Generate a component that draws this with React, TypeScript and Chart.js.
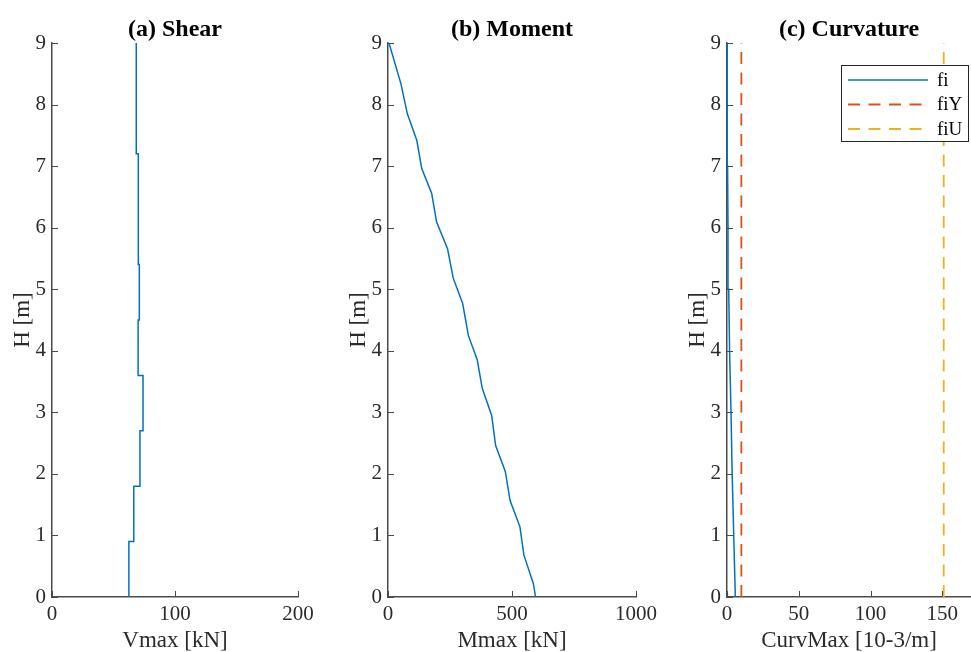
import React, { useEffect, useRef } from "react";
import { Chart, registerables } from "chart.js";

Chart.register(...registerables);

// ---------- data ----------
const heightTicks = [0, 1, 2, 3, 4, 5, 6, 7, 8, 9];

// (a) Shear: step profile, one value per storey band
const shearLevels = [0, 0.9, 1.8, 2.7, 3.6, 4.5, 5.4, 6.3, 7.2, 9];
const shearValues = [62.5, 66.5, 71.5, 74.0, 70.0, 71.0, 70.5, 70.0, 68.5];
const shearTicks = [0, 100, 200];

// (b) Moment
const momentH = [0, 0.22, 0.68, 1.14, 1.57, 2.04, 2.46, 2.95, 3.39, 3.85, 4.25, 4.5, 4.77, 5.18, 5.66, 6.09, 6.56, 6.96, 7.42, 7.85, 8.34, 9];
const momentValues = [595, 586, 548, 532, 492, 473, 434, 418, 380, 360, 324, 313, 301, 263, 240, 196, 176, 136, 116, 78, 52, 4];
const momentTicks = [0, 500, 1000];

// (c) Curvature
const curvH = [0, 1, 2, 3, 4, 5, 6, 7, 8, 9];
const curvFi = [5.8, 4.7, 3.6, 2.8, 1.8, 1.2, 0.7, 0.4, 0.2, 0.1];
const curvLimitH = [0, 9];
const fiYValue = 10;
const fiUValue = 151;
const curvTicks = [0, 50, 100, 150];

// ---------- styles ----------
const FONT = "'Liberation Serif', 'Times New Roman', serif";
const AXIS_COLOR = "#4a4a4a";
const TEXT_COLOR = "#2b2b2b";
const BLUE = "#0072BD";
const ORANGE = "#D95319";
const YELLOW = "#EDB120";

const inwardTicks = {
  id: "inwardTicks",
  afterDatasetsDraw(chart: any) {
    const { ctx, chartArea, scales } = chart;
    ctx.save();
    ctx.strokeStyle = AXIS_COLOR;
    ctx.lineWidth = 1;
    const xs = scales.x;
    const ys = scales.y;
    xs.ticks.forEach((t: any) => {
      const px = Math.round(xs.getPixelForValue(t.value)) + 0.5;
      if (px > chartArea.right + 1) return;
      ctx.beginPath();
      ctx.moveTo(px, chartArea.bottom);
      ctx.lineTo(px, chartArea.bottom - 6);
      ctx.stroke();
    });
    ys.ticks.forEach((t: any) => {
      const py = Math.round(ys.getPixelForValue(t.value)) + 0.5;
      ctx.beginPath();
      ctx.moveTo(chartArea.left, py);
      ctx.lineTo(chartArea.left + 6, py);
      ctx.stroke();
    });
    ctx.restore();
  },
};

const panelTitle = {
  id: "panelTitle",
  afterDraw(chart: any, _args: any, opts: any) {
    if (!opts || !opts.text) return;
    const { ctx, chartArea } = chart;
    ctx.save();
    ctx.fillStyle = "#000";
    ctx.font = `bold 24px ${FONT}`;
    ctx.textAlign = "center";
    ctx.textBaseline = "middle";
    ctx.fillText(opts.text, (chartArea.left + chartArea.right) / 2, chartArea.top - 13);
    ctx.restore();
  },
};

const innerLegend = {
  id: "innerLegend",
  afterDraw(chart: any, _args: any, opts: any) {
    if (!opts || !opts.show) return;
    const { ctx, chartArea } = chart;
    const w = 127;
    const h = 76;
    const x0 = chartArea.right - w - 3;
    const y0 = chartArea.top + 22;
    ctx.save();
    ctx.fillStyle = "#fff";
    ctx.fillRect(x0, y0, w, h);
    ctx.strokeStyle = "#262626";
    ctx.lineWidth = 1;
    ctx.strokeRect(x0 + 0.5, y0 + 0.5, w, h);
    chart.data.datasets.forEach((ds: any, i: number) => {
      const y = y0 + 15 + i * 24.5;
      ctx.beginPath();
      ctx.strokeStyle = ds.borderColor;
      ctx.lineWidth = ds.borderWidth;
      ctx.setLineDash(ds.borderDash || []);
      ctx.moveTo(x0 + 7, y);
      ctx.lineTo(x0 + 87, y);
      ctx.stroke();
      ctx.setLineDash([]);
      ctx.fillStyle = "#000";
      ctx.font = `19px ${FONT}`;
      ctx.textBaseline = "middle";
      ctx.fillText(ds.label, x0 + 96, y + 1);
    });
    ctx.restore();
  },
};

function makeOptions(title: string, xLabel: string, xMax: number, xTicks: number[], legend: boolean, rightPad: number) {
  return {
    responsive: false,
    animation: false as const,
    devicePixelRatio: 1,
    layout: { padding: { left: 0, right: rightPad, top: 43, bottom: 0 } },
    plugins: {
      legend: { display: false },
      tooltip: { enabled: false },
      title: { display: false },
      panelTitle: { text: title },
      innerLegend: { show: legend },
    },
    scales: {
      x: {
        type: "linear" as const,
        min: 0,
        max: xMax,
        afterBuildTicks(scale: any) {
          scale.ticks = xTicks.map((v) => ({ value: v }));
        },
        afterFit(scale: any) {
          scale.height = 55;
        },
        grid: { display: false, drawTicks: false },
        border: { display: true, color: AXIS_COLOR, width: 1.5 },
        ticks: {
          color: TEXT_COLOR,
          font: { family: FONT, size: 21 },
          padding: 5,
          maxRotation: 0,
          autoSkip: false,
          callback: (v: any) => String(v),
        },
        title: {
          display: true,
          text: xLabel,
          color: TEXT_COLOR,
          font: { family: FONT, size: 23, lineHeight: 1 },
          padding: { top: 0, bottom: 0 },
        },
      },
      y: {
        type: "linear" as const,
        min: 0,
        max: 9,
        afterBuildTicks(scale: any) {
          scale.ticks = heightTicks.map((v) => ({ value: v }));
        },
        afterFit(scale: any) {
          scale.width = 52;
        },
        grid: { display: false, drawTicks: false },
        border: { display: true, color: AXIS_COLOR, width: 1.5 },
        ticks: {
          color: TEXT_COLOR,
          font: { family: FONT, size: 21 },
          padding: 6,
          autoSkip: false,
          callback: (v: any) => String(v),
        },
        title: {
          display: true,
          text: "H [m]",
          color: TEXT_COLOR,
          font: { family: FONT, size: 23, lineHeight: 1.2 },
          padding: { top: 9, bottom: 0 },
        },
      },
    },
  };
}

function shearPoints() {
  const pts: { x: number; y: number }[] = [];
  shearValues.forEach((v, i) => {
    pts.push({ x: v, y: shearLevels[i] });
    pts.push({ x: v, y: shearLevels[i + 1] });
  });
  return pts;
}

function lineDs(label: string, data: { x: number; y: number }[], color: string, dash?: number[], width?: number) {
  return {
    label,
    data,
    borderColor: color,
    backgroundColor: color,
    borderWidth: width || 1.5,
    borderDash: dash || [],
    pointRadius: 0,
    showLine: true,
    tension: 0,
    fill: false,
    clip: 4,
  };
}

function Panel(props: { left: number; width: number; build: () => any }) {
  const ref = useRef<HTMLCanvasElement | null>(null);
  useEffect(() => {
    if (!ref.current) return;
    const cfg = props.build();
    const chart = new Chart(ref.current, cfg);
    return () => chart.destroy();
  }, []);
  return (
    <canvas
      ref={ref}
      width={props.width}
      height={652}
      style={{ position: "absolute", left: props.left, top: 0, width: props.width, height: 652 }}
    />
  );
}

export default function App() {
  const buildShear = () => ({
    type: "scatter",
    data: { datasets: [lineDs("Vmax", shearPoints(), BLUE)] },
    options: makeOptions("(a) Shear", "Vmax [kN]", 200, shearTicks, false, 38),
    plugins: [inwardTicks, panelTitle],
  });
  const buildMoment = () => ({
    type: "scatter",
    data: {
      datasets: [lineDs("Mmax", momentValues.map((v, i) => ({ x: v, y: momentH[i] })), BLUE)],
    },
    options: makeOptions("(b) Moment", "Mmax [kN]", 1000, momentTicks, false, 39),
    plugins: [inwardTicks, panelTitle],
  });
  const buildCurv = () => ({
    type: "scatter",
    data: {
      datasets: [
        lineDs("fi", curvFi.map((v, i) => ({ x: v, y: curvH[i] })), BLUE),
        lineDs("fiY", curvLimitH.map((h) => ({ x: fiYValue, y: h })), ORANGE, [12, 8.5], 1.8),
        lineDs("fiU", curvLimitH.map((h) => ({ x: fiUValue, y: h })), YELLOW, [12, 8.5], 1.8),
      ],
    },
    options: makeOptions("(c) Curvature", "CurvMax [10-3/m]", 170, curvTicks, true, 0),
    plugins: [inwardTicks, panelTitle, innerLegend],
  });

  return (
    <div style={{ position: "absolute", left: 0, top: 0, width: 971, height: 652, background: "#fff", overflow: "hidden" }}>
      <Panel left={0} width={336} build={buildShear} />
      <Panel left={336} width={339} build={buildMoment} />
      <Panel left={675} width={296} build={buildCurv} />
    </div>
  );
}
